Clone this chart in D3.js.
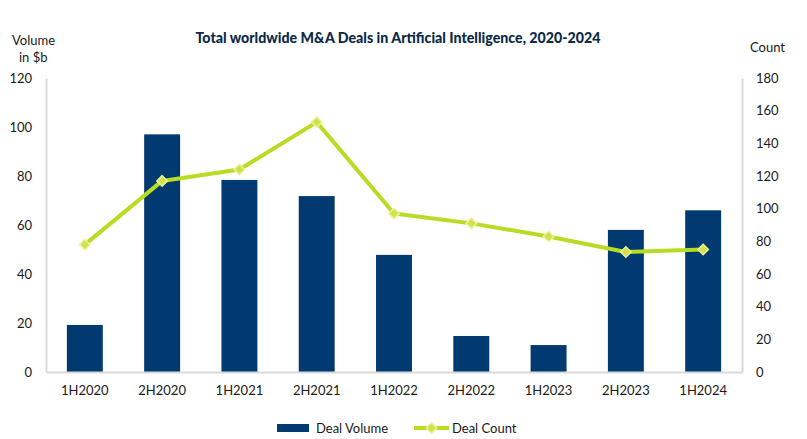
<!DOCTYPE html>
<html><head><meta charset="utf-8">
<script src="https://cdn.jsdelivr.net/npm/d3@7"></script>
<style>body{margin:0;background:#fff;} svg{display:block;font-family:Lato,"Open Sans",sans-serif;}</style>
</head><body>
<svg id="c" width="807" height="439"></svg>
<script>
const categories = ["1H2020","2H2020","1H2021","2H2021","1H2022","2H2022","1H2023","2H2023","1H2024"];
const dealVolume = [19.2, 97, 78.4, 71.8, 47.8, 14.7, 11, 58, 66];
const dealCount = [78, 117, 124, 153, 97, 91, 83, 73.5, 75];
const leftTicks = [0,20,40,60,80,100,120];
const rightTicks = [0,20,40,60,80,100,120,140,160,180];

const svg = d3.select("#c");
const L = 46, R = 742, T = 78, B = 372;
const x = d3.scaleBand().domain(categories).range([L, R]).paddingInner(0.535).paddingOuter(0.27);
const yL = d3.scaleLinear().domain([0,120]).range([B, T]);
const yR = d3.scaleLinear().domain([0,180]).range([B, T]);
const txt = "#1a1a1a";

svg.append("text").attr("x", 398).attr("y", 43).attr("text-anchor","middle")
  .attr("font-size", 14.2).attr("font-weight", 900).attr("fill", "#0b2a47")
  .text("Total worldwide M&A Deals in Artificial Intelligence, 2020-2024");

svg.append("text").attr("x", 12).attr("y", 45).attr("font-size", 13).attr("fill", txt).text("Volume");
svg.append("text").attr("x", 19).attr("y", 62).attr("font-size", 13).attr("fill", txt).text("in $b");
svg.append("text").attr("x", 750).attr("y", 52).attr("font-size", 13).attr("fill", txt).text("Count");

// axes
const gl = svg.append("g").attr("transform", `translate(${L},0)`)
  .call(d3.axisLeft(yL).tickValues(leftTicks).tickSize(0).tickPadding(14));
gl.select(".domain").attr("stroke", "#d9d9d9").attr("stroke-width", 2);
gl.selectAll("text").attr("font-size", 13).attr("fill", txt).attr("font-family","Lato,sans-serif");

const gr = svg.append("g").attr("transform", `translate(${R},0)`)
  .call(d3.axisRight(yR).tickValues(rightTicks).tickSize(0).tickPadding(14));
gr.select(".domain").attr("stroke", "#d9d9d9").attr("stroke-width", 2);
gr.selectAll("text").attr("font-size", 13).attr("fill", txt).attr("font-family","Lato,sans-serif");

// bars
svg.append("g").selectAll("rect").data(dealVolume).join("rect")
  .attr("x", (d,i) => x(categories[i])).attr("width", x.bandwidth())
  .attr("y", d => yL(d)).attr("height", d => B - yL(d)).attr("fill", "#003a70");

const gx = svg.append("g").attr("transform", `translate(0,${B})`)
  .call(d3.axisBottom(x).tickSize(0).tickPadding(14));
gx.select(".domain").attr("stroke", "#d9d9d9").attr("stroke-width", 2);
gx.selectAll("text").attr("font-size", 13).attr("fill", txt).attr("font-family","Lato,sans-serif");

// line
const cx = i => x(categories[i]) + x.bandwidth()/2;
svg.append("path").datum(dealCount)
  .attr("d", d3.line().x((d,i) => cx(i)).y(d => yR(d)))
  .attr("fill", "none").attr("stroke", "#b8dc22").attr("stroke-width", 4).attr("stroke-linejoin","round");
const diamond = d3.symbol().type(d3.symbolDiamond2).size(70);
svg.append("g").selectAll("path").data(dealCount).join("path")
  .attr("d", diamond).attr("transform", (d,i) => `translate(${cx(i)},${yR(d)})`)
  .attr("fill", "#d3e04a").attr("stroke", "#e4f59a").attr("stroke-width", 1.5);

// legend
const ly = 428;
svg.append("rect").attr("x", 277).attr("y", ly-4).attr("width", 32).attr("height", 8).attr("fill", "#003a70");
svg.append("text").attr("x", 316).attr("y", ly+4.5).attr("font-size", 13).attr("fill", txt).text("Deal Volume");
svg.append("line").attr("x1", 414).attr("x2", 449).attr("y1", ly).attr("y2", ly).attr("stroke", "#b8dc22").attr("stroke-width", 4);
svg.append("path").attr("d", diamond).attr("transform", `translate(431.5,${ly})`).attr("fill", "#d3e04a").attr("stroke", "#e4f59a").attr("stroke-width", 1.5);
svg.append("text").attr("x", 452).attr("y", ly+4.5).attr("font-size", 13).attr("fill", txt).text("Deal Count");
</script>
</body></html>
